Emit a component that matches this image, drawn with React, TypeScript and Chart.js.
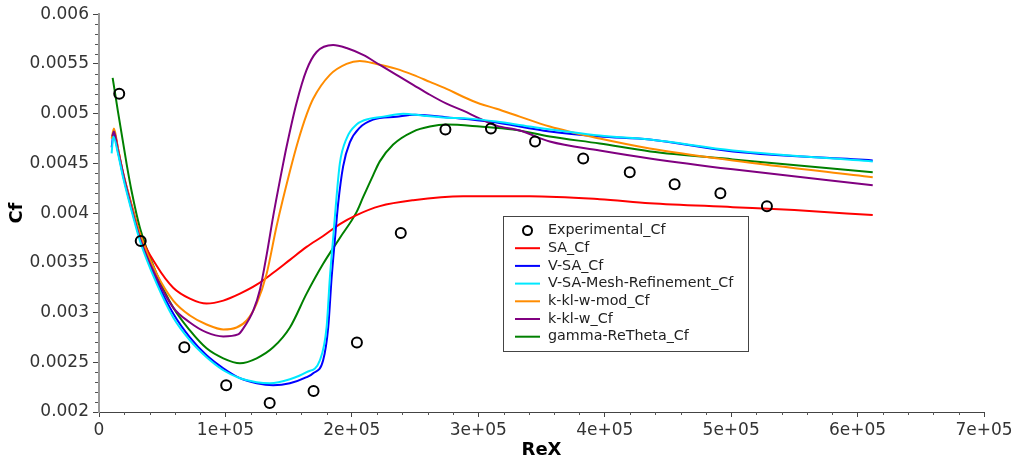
import React, { useEffect, useRef } from "react";
import { Chart, registerables } from "chart.js";

Chart.register(...registerables);

// ---- Data ----
const expX = [1.6e4, 3.3e4, 6.75e4, 1.006e5, 1.35e5, 1.697e5, 2.04e5, 2.387e5, 2.74e5, 3.1e5, 3.449e5, 3.83e5, 4.198e5, 4.553e5, 4.915e5, 5.283e5];
const expY = [0.0052, 0.00372, 0.00265, 0.00227, 0.00209, 0.00221, 0.0027, 0.0038, 0.00484, 0.00485, 0.00472, 0.00455, 0.00441, 0.00429, 0.0042, 0.00407];

const saX = [1.05e4, 1.18e4, 1.5e4, 1.92e4, 2.5e4, 3.24e4, 4.56e4, 5.87e4, 7.19e4, 8.51e4, 9.83e4, 1.115e5, 1.247e5, 1.378e5, 1.51e5, 1.642e5, 1.773e5, 1.905e5, 2.037e5, 2.221e5, 2.485e5, 2.88e5, 3.144e5, 3.407e5, 3.96e5, 4.356e5, 5.014e5, 5.5e5, 6.12e5];
const saY = [0.00475, 0.00482, 0.00465, 0.00439, 0.00412, 0.00379, 0.00347, 0.00325, 0.00314, 0.00309, 0.00312, 0.00319, 0.00328, 0.0034, 0.00353, 0.00366, 0.00377, 0.00389, 0.00398, 0.00407, 0.00413, 0.00417, 0.00417, 0.00417, 0.00414, 0.0041, 0.00406, 0.00403, 0.00398];

const vsaX = [1.0e4, 1.15e4, 1.5e4, 1.92e4, 2.5e4, 3.24e4, 4.56e4, 5.87e4, 7.19e4, 8.51e4, 9.83e4, 1.115e5, 1.247e5, 1.378e5, 1.51e5, 1.642e5, 1.694e5, 1.773e5, 1.813e5, 1.84e5, 1.865e5, 1.892e5, 1.931e5, 1.984e5, 2.063e5, 2.168e5, 2.353e5, 2.5e5, 2.775e5, 3.09e5, 3.565e5, 3.96e5, 4.356e5, 5.014e5, 6.12e5];
const vsaY = [0.00466, 0.0048, 0.00462, 0.00437, 0.00408, 0.00375, 0.00332, 0.00299, 0.00275, 0.00257, 0.00244, 0.00234, 0.00229, 0.00227, 0.00229, 0.00235, 0.00239, 0.00252, 0.00285, 0.00335, 0.00372, 0.0041, 0.00447, 0.00471, 0.00486, 0.00494, 0.00497, 0.00499, 0.00496, 0.00492, 0.00482, 0.00477, 0.00474, 0.00462, 0.00453];

const meshX = [1.0e4, 1.13e4, 1.5e4, 1.92e4, 2.5e4, 3.24e4, 4.56e4, 5.87e4, 7.19e4, 8.51e4, 9.83e4, 1.115e5, 1.247e5, 1.352e5, 1.51e5, 1.642e5, 1.747e5, 1.8e5, 1.826e5, 1.852e5, 1.878e5, 1.905e5, 1.958e5, 2.037e5, 2.142e5, 2.248e5, 2.406e5, 2.564e5, 2.749e5, 2.933e5, 3.144e5, 3.407e5, 3.96e5, 4.356e5, 5.014e5, 6.12e5];
const meshY = [0.0046, 0.00477, 0.0046, 0.00435, 0.00406, 0.00372, 0.00329, 0.00295, 0.00272, 0.00255, 0.00242, 0.00234, 0.0023, 0.00229, 0.00233, 0.0024, 0.00252, 0.00285, 0.00335, 0.00375, 0.00415, 0.0045, 0.00475, 0.00489, 0.00495, 0.00497, 0.005, 0.00498, 0.00496, 0.00495, 0.00492, 0.00487, 0.00478, 0.00474, 0.00463, 0.00452];

const kklwModX = [1.0e4, 1.18e4, 1.5e4, 1.92e4, 2.5e4, 3.24e4, 4.56e4, 5.87e4, 7.19e4, 8.51e4, 9.83e4, 1.088e5, 1.168e5, 1.247e5, 1.326e5, 1.405e5, 1.51e5, 1.576e5, 1.642e5, 1.694e5, 1.826e5, 1.958e5, 2.063e5, 2.195e5, 2.353e5, 2.485e5, 2.617e5, 2.749e5, 2.88e5, 3.012e5, 3.144e5, 3.328e5, 3.565e5, 3.96e5, 4.356e5, 5.014e5, 6.12e5];
const kklwModY = [0.00475, 0.00485, 0.00465, 0.0044, 0.00411, 0.00379, 0.00339, 0.00312, 0.00297, 0.00288, 0.00283, 0.00285, 0.00292, 0.00309, 0.00339, 0.00387, 0.00442, 0.00473, 0.00499, 0.00515, 0.00539, 0.0055, 0.00553, 0.0055, 0.00545, 0.00539, 0.00532, 0.00525, 0.00517, 0.0051, 0.00505, 0.00497, 0.00487, 0.00475, 0.00465, 0.00453, 0.00436];

const kklwX = [1.05e4, 1.18e4, 1.5e4, 1.92e4, 2.24e4, 3.24e4, 4.56e4, 5.87e4, 7.19e4, 8.51e4, 9.83e4, 1.1e5, 1.141e5, 1.22e5, 1.273e5, 1.326e5, 1.378e5, 1.457e5, 1.484e5, 1.563e5, 1.642e5, 1.721e5, 1.852e5, 1.958e5, 2.089e5, 2.221e5, 2.353e5, 2.485e5, 2.617e5, 2.749e5, 2.88e5, 3.012e5, 3.144e5, 3.328e5, 3.565e5, 3.96e5, 4.356e5, 5.014e5, 6.12e5];
const kklwY = [0.00477, 0.00482, 0.00463, 0.00439, 0.00422, 0.00375, 0.00335, 0.00305, 0.0029, 0.0028, 0.00276, 0.00278, 0.00284, 0.00302, 0.00323, 0.00358, 0.00397, 0.0045, 0.00467, 0.00511, 0.00544, 0.00562, 0.00569, 0.00566, 0.00559, 0.00549, 0.00539, 0.00529, 0.00519, 0.0051, 0.00503, 0.00495, 0.00488, 0.00483, 0.00472, 0.00463, 0.00455, 0.00444, 0.00428];

const gammaX = [1.08e4, 1.5e4, 2.19e4, 2.58e4, 3.24e4, 4.56e4, 5.87e4, 7.19e4, 8.51e4, 9.83e4, 1.115e5, 1.247e5, 1.378e5, 1.51e5, 1.642e5, 1.773e5, 1.905e5, 2.037e5, 2.089e5, 2.168e5, 2.221e5, 2.327e5, 2.485e5, 2.617e5, 2.749e5, 3.012e5, 3.275e5, 3.565e5, 3.96e5, 4.36e5, 5.014e5, 6.12e5];
const gammaY = [0.00536, 0.00502, 0.00449, 0.00422, 0.00385, 0.00339, 0.00305, 0.00282, 0.00264, 0.00254, 0.00249, 0.00254, 0.00265, 0.00285, 0.00319, 0.00349, 0.00375, 0.00401, 0.00416, 0.00438, 0.00452, 0.00469, 0.00482, 0.00487, 0.00489, 0.00487, 0.00484, 0.00477, 0.0047, 0.00462, 0.00454, 0.00441];

const seriesNames = ["Experimental_Cf", "SA_Cf", "V-SA_Cf", "V-SA-Mesh-Refinement_Cf", "k-kl-w-mod_Cf", "k-kl-w_Cf", "gamma-ReTheta_Cf"];
const seriesColors = ["#000000", "#ff0000", "#0000ff", "#00e8ff", "#ff8c00", "#800080", "#008000"];

const xTitle = "ReX";
const yTitle = "Cf";

const zip = (xs: number[], ys: number[]) => xs.map((x, i) => ({ x, y: ys[i] }));

const FONT = "'DejaVu Sans', sans-serif";

const decorPlugin = {
  id: "decor",
  afterDraw(chart: any) {
    const { ctx, chartArea } = chart;
    const xs = chart.scales.x;
    const ys = chart.scales.y;
    ctx.save();
    ctx.strokeStyle = "#555";
    ctx.lineWidth = 1;
    // minor ticks
    for (let i = 0; i <= 35; i++) {
      if (i % 5 === 0) continue;
      const px = Math.round(xs.getPixelForValue(i * 2e4)) + 0.5;
      ctx.beginPath();
      ctx.moveTo(px, chartArea.bottom);
      ctx.lineTo(px, chartArea.bottom + 3);
      ctx.stroke();
    }
    for (let i = 0; i <= 40; i++) {
      if (i % 5 === 0) continue;
      const py = Math.round(ys.getPixelForValue(0.002 + i * 1e-4)) + 0.5;
      ctx.beginPath();
      ctx.moveTo(chartArea.left - 1, py);
      ctx.lineTo(chartArea.left - 4, py);
      ctx.stroke();
    }

    // legend
    const left = 503;
    const top = 216;
    const w = 245;
    const h = 135;
    ctx.fillStyle = "#ffffff";
    ctx.fillRect(left, top, w, h);
    ctx.strokeStyle = "#444";
    ctx.lineWidth = 1;
    ctx.strokeRect(left + 0.5, top + 0.5, w, h);
    ctx.font = "14.3px " + FONT;
    ctx.textBaseline = "middle";
    ctx.textAlign = "left";
    const rowH = 17.7;
    seriesNames.forEach((name, i) => {
      const cy = top + 14.5 + i * rowH;
      if (i === 0) {
        ctx.beginPath();
        ctx.strokeStyle = "#000";
        ctx.lineWidth = 2;
        ctx.arc(527.5, cy, 4.5, 0, Math.PI * 2);
        ctx.stroke();
      } else {
        ctx.beginPath();
        ctx.strokeStyle = seriesColors[i];
        ctx.lineWidth = 2;
        ctx.moveTo(515, cy);
        ctx.lineTo(540, cy);
        ctx.stroke();
      }
      ctx.fillStyle = "#222";
      ctx.fillText(name, 548, cy);
    });
    ctx.restore();
  },
};

export default function App() {
  const ref = useRef<HTMLCanvasElement | null>(null);

  useEffect(() => {
    if (!ref.current) return;
    const lineDs = (idx: number, xs: number[], ys: number[]) => ({
      label: seriesNames[idx],
      data: zip(xs, ys),
      showLine: true,
      borderColor: seriesColors[idx],
      backgroundColor: seriesColors[idx],
      borderWidth: 2,
      pointRadius: 0,
      cubicInterpolationMode: "monotone" as const,
    });
    const chart = new Chart(ref.current, {
      type: "scatter",
      data: {
        datasets: [
          {
            label: seriesNames[0],
            data: zip(expX, expY),
            showLine: false,
            pointRadius: 5,
            pointBorderWidth: 2,
            borderColor: "#000",
            backgroundColor: "rgba(0,0,0,0)",
            pointStyle: "circle",
          },
          lineDs(3, meshX, meshY),
          lineDs(5, kklwX, kklwY),
          lineDs(4, kklwModX, kklwModY),
          lineDs(2, vsaX, vsaY),
          lineDs(1, saX, saY),
          lineDs(6, gammaX, gammaY),
        ],
      },
      options: {
        animation: false,
        responsive: true,
        maintainAspectRatio: false,
        layout: { padding: { top: 12, right: 35, left: 0, bottom: 0 } },
        plugins: { legend: { display: false }, tooltip: { enabled: false } },
        scales: {
          x: {
            type: "linear",
            min: 0,
            max: 7e5,
            ticks: {
              stepSize: 1e5,
              color: "#333",
              padding: 3,
              font: { family: FONT, size: 17 },
              callback: (v: any) => (v === 0 ? "0" : `${Math.round(v / 1e5)}e+05`),
            },
            grid: { drawOnChartArea: false, drawTicks: true, tickLength: 5, tickColor: "#444" },
            border: { color: "#444", width: 1 },
            title: {
              display: true,
              text: xTitle,
              color: "#000",
              font: { family: FONT, size: 18, weight: "bold" },
              padding: { top: 0, bottom: 0 },
            },
            afterFit: (s: any) => {
              s.height = 49;
            },
          },
          y: {
            type: "linear",
            min: 0.002,
            max: 0.006,
            ticks: {
              stepSize: 0.0005,
              color: "#333",
              padding: 4,
              font: { family: FONT, size: 17 },
              callback: (v: any) => String(parseFloat(Number(v).toFixed(5))),
            },
            grid: { drawOnChartArea: false, drawTicks: true, tickLength: 6, tickColor: "#444" },
            border: { color: "#999", width: 2 },
            title: {
              display: true,
              text: yTitle,
              color: "#000",
              font: { family: FONT, size: 18, weight: "bold" },
              padding: { top: 7, bottom: 0 },
            },
            afterFit: (s: any) => {
              s.width = 99;
            },
          },
        },
      },
      plugins: [decorPlugin],
    });
    return () => chart.destroy();
  }, []);

  return (
    <div style={{ position: "fixed", left: 0, top: 0, width: 1019, height: 461, background: "#fff" }}>
      <canvas ref={ref} />
    </div>
  );
}
